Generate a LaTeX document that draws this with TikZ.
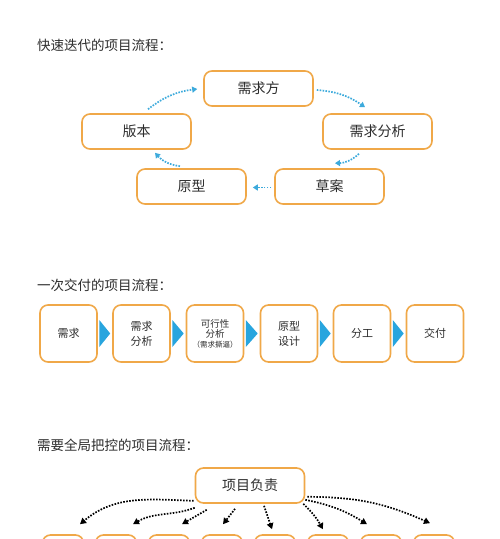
\documentclass[tikz,border=0pt]{standalone}
\usepackage{fontspec}
\setmainfont{Noto Sans CJK SC}
\usetikzlibrary{arrows.meta,calc}
\definecolor{boxorange}{RGB}{240,168,72}
\definecolor{arrcyan}{RGB}{60,170,220}
\definecolor{tricol}{RGB}{40,165,222}
\definecolor{txt}{RGB}{45,45,45}
\begin{document}
\begin{tikzpicture}[x=1pt,y=1pt,
 box/.style={draw=boxorange, line width=1.6pt, rounded corners=8pt, fill=white, text=txt, inner sep=0pt, align=center},
 bigbox/.style={box, minimum width=109pt, minimum height=35pt, font=\fontsize{14}{16}\selectfont},
 sqbox/.style={box, minimum width=57pt, minimum height=57pt, font=\fontsize{11}{15}\selectfont},
 lowbox/.style={box, minimum width=41pt, minimum height=40pt},
 cyarr/.style={arrcyan, line width=1.7pt, dash pattern=on 1.6pt off 1.3pt, -{Triangle[length=5pt,width=6pt]}},
 blkarr/.style={black, line width=1.7pt, dash pattern=on 1.6pt off 1.4pt, -{Triangle[length=6pt,width=6.5pt]}},
 title/.style={anchor=west, text=txt, font=\fontsize{13.5}{16}\selectfont, inner sep=0pt}
]
\fill[white] (0,0) rectangle (500,-539);
\useasboundingbox (0,0) rectangle (500,-539);

% ---- section 1
\node[title] (t1) at (37,-45) {快速迭代的项目流程：};
\node[bigbox] (xqf) at (258.5,-88.5) {需求方};
\node[bigbox] (bb) at (136.5,-131.5) {版本};
\node[bigbox] (xqfx) at (377.5,-131.5) {需求分析};
\node[bigbox] (yx) at (191.5,-186.5) {原型};
\node[bigbox] (ca) at (329.5,-186.5) {草案};

\draw[cyarr] ($(bb.north)+(11.5,4)$) to[bend left=15] ($(xqf.west)+(-6,-0.5)$);
\draw[cyarr] ($(xqf.east)+(3,-1.5)$) to[bend left=15] ($(xqfx.north)+(-12.5,6)$);
\draw[cyarr] ($(xqfx.south)+(-18.5,-4)$) to[bend left=20] ($(ca.north)+(5.5,5)$);
\draw[cyarr] ($(ca.west)+(-3,-1)$) -- ($(yx.east)+(6,-1)$);
\draw[cyarr] ($(yx.north)+(-11.5,2)$) to[bend left=20] ($(bb.south)+(18.5,-3)$);

% ---- section 2
\node[title] (t2) at (37,-285) {一次交付的项目流程：};
\node[sqbox] (m1) at (68.5,-333.5) {需求};
\node[sqbox] (m2) at (141.5,-333.5) {需求\\分析};
\node[sqbox, font=\fontsize{9.5}{10}\selectfont] (m3) at (215,-333.5) {可行性\\分析\\{\fontsize{7.5}{9.5}\selectfont （需求撕逼）}};
\node[sqbox] (m4) at (289,-333.5) {原型\\设计};
\node[sqbox] (m5) at (362,-333.5) {分工};
\node[sqbox] (m6) at (435,-333.5) {交付};
\foreach \a/\b in {m1/m2,m2/m3,m3/m4,m4/m5,m5/m6}{
  \fill[tricol] ($(\a.east)+(1.5,13.5)$) -- ($(\b.west)+(-2,0)$) -- ($(\a.east)+(1.5,-13.5)$) -- cycle;
}

% ---- section 3
\node[title] (t3) at (37,-445) {需要全局把控的项目流程：};
\node[bigbox] (fz) at (250,-485.5) {项目负责};
\foreach \i in {1,...,8}{
  \node[lowbox] (l\i) at ({63+53*(\i-1)},-555) {};
}
\draw[blkarr] ($(fz.south west)+(-1,3)$) to[out=178,in=40] ($(l1.north)+(17,10)$);
\draw[blkarr] ($(fz.south west)+(0,-4)$) to[out=200,in=30] ($(l2.north)+(17,10)$);
\draw[blkarr] ($(fz.south west)+(12,-6)$) -- ($(l3.north)+(13,10)$);
\draw[blkarr] ($(fz.south)+(-15,-5)$) -- ($(l4.north)+(1,10)$);
\draw[blkarr] ($(fz.south)+(14,-2)$) -- ($(l5.north)+(-3,5)$);
\draw[blkarr] ($(fz.south east)+(-2,0)$) to[bend left=8] ($(l6.north)+(-5,5)$);
\draw[blkarr] ($(fz.south east)+(0,4)$) to[bend left=10] ($(l7.north)+(-14,10)$);
\draw[blkarr] ($(fz.south east)+(2,7)$) to[bend left=12] ($(l8.north)+(-4,11)$);
\end{tikzpicture}
\end{document}
